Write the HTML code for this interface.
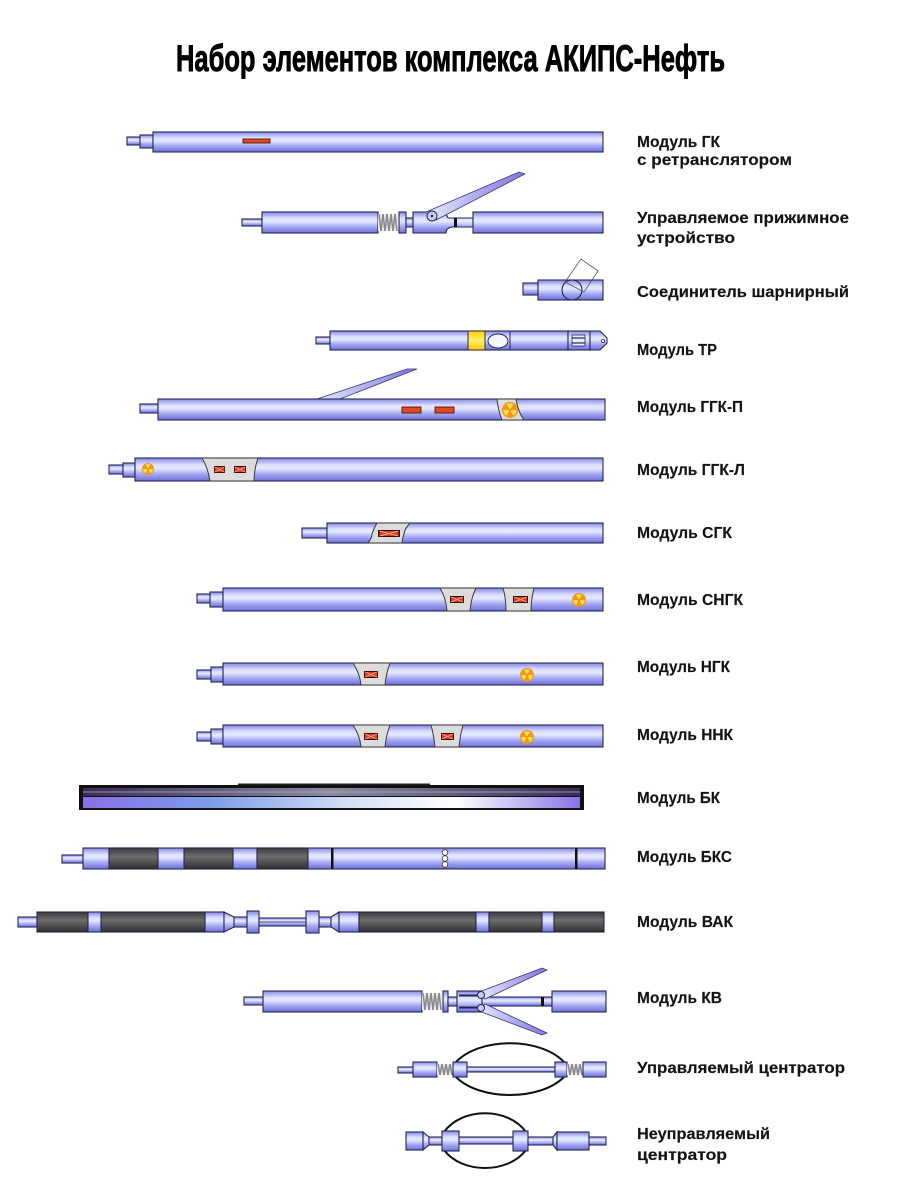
<!DOCTYPE html>
<html><head><meta charset="utf-8"><style>
html,body{margin:0;padding:0;background:#fff;}
svg{display:block;}
.lb{font-family:"Liberation Sans","DejaVu Sans",sans-serif;font-weight:bold;font-size:15.5px;fill:#141414;stroke:#141414;stroke-width:0.15;}
.ttl{font-family:"Liberation Sans","DejaVu Sans",sans-serif;font-weight:bold;font-size:37px;fill:#000;stroke:#000;stroke-width:0.9;}
.p{fill:url(#pipe);stroke:#262650;stroke-width:1.1;}
.d{fill:url(#dark);stroke:#262650;stroke-width:1.1;}
.w{fill:#dcdcdc;stroke:#3a3a3a;stroke-width:1;}
.rb{fill:#dd4a24;stroke:#5a1208;stroke-width:0.9;}
.sp{fill:none;stroke:#8a8a8a;stroke-width:1.6;}
.bow{fill:none;stroke:#111;stroke-width:2;}
</style></head><body>
<svg width="900" height="1200" viewBox="0 0 900 1200" xmlns="http://www.w3.org/2000/svg">
<defs>
<linearGradient id="pipe" x1="0" y1="0" x2="0" y2="1">
<stop offset="0" stop-color="#8486e6"/><stop offset="0.3" stop-color="#dde1fc"/><stop offset="0.45" stop-color="#e4e8ff"/><stop offset="0.7" stop-color="#a4a8f2"/><stop offset="1" stop-color="#6d6fd8"/>
</linearGradient>
<linearGradient id="dark" x1="0" y1="0" x2="0" y2="1">
<stop offset="0" stop-color="#3a3a3a"/><stop offset="0.4" stop-color="#6c6c6c"/><stop offset="0.6" stop-color="#5a5a5a"/><stop offset="1" stop-color="#2e2e2e"/>
</linearGradient>
<linearGradient id="yel" x1="0" y1="0" x2="0" y2="1">
<stop offset="0" stop-color="#ffd000"/><stop offset="0.5" stop-color="#fff070"/><stop offset="1" stop-color="#ffc800"/>
</linearGradient>
<linearGradient id="arm" x1="0" y1="0" x2="1" y2="0">
<stop offset="0" stop-color="#e6eaff"/><stop offset="1" stop-color="#7e74de"/>
</linearGradient>
<linearGradient id="bk" x1="0" y1="0" x2="1" y2="0">
<stop offset="0" stop-color="#8a6fe6"/><stop offset="0.25" stop-color="#7c9be8"/><stop offset="0.55" stop-color="#d6e2f8"/><stop offset="0.75" stop-color="#ffffff"/><stop offset="0.9" stop-color="#b6aef0"/><stop offset="1" stop-color="#8a70e8"/>
</linearGradient>
<linearGradient id="bkt" x1="0" y1="0" x2="1" y2="0">
<stop offset="0" stop-color="#3a2c58"/><stop offset="0.5" stop-color="#8a8aa0"/><stop offset="1" stop-color="#3a2c58"/>
</linearGradient>
<symbol id="rad" viewBox="-8 -8 16 16">
<circle r="8" fill="#f4961c"/>
<path d="M0,0 L-3.25,-5.63 A6.5,6.5 0 0 1 3.25,-5.63 Z M0,0 L6.5,0 A6.5,6.5 0 0 1 3.25,5.63 Z M0,0 L-3.25,5.63 A6.5,6.5 0 0 1 -6.5,0 Z" fill="#ffe24a"/>
<circle r="1.5" fill="#f4961c"/>
</symbol>
<symbol id="det" viewBox="0 0 14 7" preserveAspectRatio="none">
<rect x="0.5" y="0.5" width="13" height="6" fill="#d83c20" stroke="#3a0a08" stroke-width="1"/>
<path d="M1,1 L13,6 M13,1 L1,6" stroke="#f6b090" stroke-width="0.9"/>
</symbol>
</defs>

<text class="ttl" x="176" y="71" textLength="549" lengthAdjust="spacingAndGlyphs">Набор элементов комплекса АКИПС-Нефть</text>

<!-- 1 ГК -->
<rect class="p" x="127" y="137" width="13" height="8"/>
<rect class="p" x="140" y="135" width="13" height="13"/>
<rect class="p" x="153" y="132" width="450" height="20"/>
<rect class="rb" x="243" y="139" width="27" height="4"/>

<!-- 2 прижимное -->
<rect class="p" x="242" y="219" width="20" height="7"/>
<rect class="p" x="262" y="212" width="116" height="21"/>
<rect x="378" y="214" width="20" height="17" fill="#ececf2"/>
<polyline class="sp" points="379,214 381,231 383,214 385,231 387,214 389,231 391,214 393,231 395,214 397,231"/>
<rect class="p" x="399" y="212" width="7" height="21"/>
<rect class="p" x="406" y="218" width="7" height="9"/>
<path class="p" d="M413,212 H440 Q446,212 448,218 H473 V227 H452 Q446,228 446,233 H413 Z"/>
<rect x="454" y="218" width="3" height="9" fill="#111"/>
<rect class="p" x="473" y="212" width="130" height="21"/>
<polygon points="426,212 519,172 525,174 436,220" fill="url(#arm)" stroke="#3a3a70" stroke-width="0.8"/>
<circle cx="432" cy="216" r="5" fill="#c8ccf6" stroke="#262650" stroke-width="1"/>
<circle cx="432" cy="216" r="1.2" fill="#222"/>

<!-- 3 соединитель -->
<rect class="p" x="523" y="283" width="15" height="12"/>
<rect class="p" x="538" y="280" width="65" height="20"/>
<circle class="p" cx="572" cy="290" r="10"/>
<polygon points="565,282 581,259 598,271 584,292" fill="none" stroke="#555" stroke-width="0.8"/>

<!-- 4 ТР -->
<rect class="p" x="316" y="337" width="14" height="7"/>
<rect class="p" x="330" y="331" width="238" height="19"/>
<rect x="468" y="331" width="17" height="19" fill="url(#yel)" stroke="#262650" stroke-width="1"/>
<ellipse cx="498" cy="341" rx="10" ry="7" fill="#f4f6ff" stroke="#262650" stroke-width="1"/>
<line x1="510" y1="331" x2="510" y2="350" stroke="#262650" stroke-width="1"/>
<rect class="p" x="568" y="331" width="22" height="19"/>
<rect x="572" y="335" width="13" height="11" fill="#e8ebff" stroke="#262650" stroke-width="0.8"/>
<line x1="572" y1="338" x2="585" y2="338" stroke="#262650" stroke-width="1.2"/>
<line x1="572" y1="343" x2="585" y2="343" stroke="#262650" stroke-width="1.2"/>
<polygon class="p" points="590,331 600,331 607,338 607,343 600,350 590,350"/>
<circle cx="603" cy="341" r="1.6" fill="#fff" stroke="#262650" stroke-width="0.8"/>

<!-- 5 ГГК-П -->
<polygon points="317,399 407,369 417,369 340,399" fill="url(#arm)" stroke="#3a3a70" stroke-width="0.8"/>
<rect class="p" x="140" y="404" width="18" height="9"/>
<rect class="p" x="158" y="399" width="447" height="21"/>
<rect class="rb" x="402" y="407" width="19" height="6"/>
<rect class="rb" x="435" y="407" width="19" height="6"/>
<path class="w" d="M497,399 H516 Q518,412 524,420 H502 Q498,410 497,399 Z"/>
<use href="#rad" x="502" y="402" width="16" height="16"/>

<!-- 6 ГГК-Л -->
<rect class="p" x="109" y="465" width="14" height="9"/>
<rect class="p" x="123" y="463" width="12" height="14"/>
<rect class="p" x="135" y="458" width="468" height="23"/>
<use href="#rad" x="142" y="463" width="12" height="12"/>
<path class="w" d="M202,458 H258 Q254,470 254,481 H210 Q208,468 202,458 Z"/>
<use href="#det" x="214" y="466" width="11" height="7"/>
<use href="#det" x="234" y="466" width="12" height="7"/>

<!-- 7 СГК -->
<rect class="p" x="302" y="528" width="25" height="10"/>
<rect class="p" x="327" y="523" width="276" height="20"/>
<path class="w" d="M377,523 H410 Q404,530 404,534 Q402,540 402,543 H368 Q372,538 372,534 Q374,528 377,523 Z"/>
<use href="#det" x="378" y="530" width="22" height="7"/>

<!-- 8 СНГК -->
<rect class="p" x="197" y="594" width="13" height="9"/>
<rect class="p" x="210" y="592" width="13" height="15"/>
<rect class="p" x="223" y="588" width="380" height="23"/>
<path class="w" d="M440,588 H476 Q471,598 470,611 H447 Q446,598 440,588 Z"/>
<use href="#det" x="450" y="596" width="14" height="7"/>
<path class="w" d="M503,588 H534 Q531,600 531,611 H506 Q506,598 503,588 Z"/>
<use href="#det" x="513" y="596" width="15" height="7"/>
<use href="#rad" x="572" y="593" width="14" height="14"/>

<!-- 9 НГК -->
<rect class="p" x="197" y="670" width="14" height="9"/>
<rect class="p" x="211" y="667" width="12" height="15"/>
<rect class="p" x="223" y="663" width="380" height="22"/>
<path class="w" d="M353,663 H390 Q386,674 385,685 H361 Q360,674 353,663 Z"/>
<use href="#det" x="364" y="671" width="14" height="7"/>
<use href="#rad" x="520" y="668" width="14" height="14"/>

<!-- 10 ННК -->
<rect class="p" x="197" y="732" width="14" height="9"/>
<rect class="p" x="211" y="729" width="12" height="15"/>
<rect class="p" x="223" y="725" width="380" height="22"/>
<path class="w" d="M353,725 H390 Q386,736 385,747 H361 Q360,736 353,725 Z"/>
<use href="#det" x="364" y="733" width="14" height="7"/>
<path class="w" d="M431,725 H463 Q460,736 459,747 H435 Q434,736 431,725 Z"/>
<use href="#det" x="441" y="733" width="13" height="7"/>
<use href="#rad" x="520" y="730" width="14" height="14"/>

<!-- 11 БК -->
<rect x="238" y="783.5" width="192" height="3" fill="#222"/>
<rect x="79" y="785" width="505" height="25" fill="#111"/>
<rect x="83" y="788" width="497" height="8" fill="url(#bkt)"/>
<line x1="83" y1="792" x2="580" y2="792" stroke="#b0aec0" stroke-width="0.8"/>
<rect x="83" y="797" width="497" height="11" fill="url(#bk)"/>

<!-- 12 БКС -->
<rect class="p" x="62" y="855" width="21" height="8"/>
<rect class="p" x="83" y="848" width="522" height="21"/>
<rect class="d" x="109" y="848" width="49" height="21"/>
<rect class="d" x="184" y="848" width="49" height="21"/>
<rect class="d" x="257" y="848" width="51" height="21"/>
<rect x="331" y="848" width="2.5" height="21" fill="#111"/>
<rect x="575" y="848" width="2.5" height="21" fill="#111"/>
<circle cx="445" cy="852.5" r="2.8" fill="#fff" stroke="#333" stroke-width="0.8"/>
<circle cx="445" cy="858.5" r="2.8" fill="#fff" stroke="#333" stroke-width="0.8"/>
<circle cx="445" cy="864.5" r="2.8" fill="#fff" stroke="#333" stroke-width="0.8"/>

<!-- 13 ВАК -->
<rect class="p" x="18" y="917" width="19" height="10"/>
<rect class="d" x="37" y="912" width="51" height="20"/>
<rect class="p" x="88" y="912" width="13" height="20"/>
<rect class="d" x="101" y="912" width="104" height="20"/>
<rect class="p" x="205" y="912" width="19" height="20"/>
<polygon class="p" points="224,912 234,917 234,927 224,932"/>
<rect class="p" x="234" y="917" width="13" height="10"/>
<rect class="p" x="247" y="911" width="12" height="22"/>
<rect class="p" x="259" y="918" width="47" height="8"/>
<line x1="259" y1="922" x2="306" y2="922" stroke="#262650" stroke-width="0.8"/>
<rect class="p" x="306" y="911" width="13" height="22"/>
<rect class="p" x="319" y="917" width="12" height="10"/>
<polygon class="p" points="331,917 339,912 339,932 331,927"/>
<rect class="p" x="339" y="912" width="20" height="20"/>
<rect class="d" x="359" y="912" width="117" height="20"/>
<rect class="p" x="476" y="912" width="13" height="20"/>
<rect class="d" x="489" y="912" width="53" height="20"/>
<rect class="p" x="542" y="912" width="12" height="20"/>
<rect class="d" x="554" y="912" width="50" height="20"/>

<!-- 14 КВ -->
<rect class="p" x="244" y="997" width="19" height="8"/>
<rect class="p" x="263" y="991" width="159" height="21"/>
<rect x="422" y="993" width="20" height="17" fill="#ececf2"/>
<polyline class="sp" points="423,993 425,1010 427,993 429,1010 431,993 433,1010 435,993 437,1010 439,993 441,1010"/>
<rect class="p" x="443" y="991" width="5" height="21"/>
<rect class="p" x="448" y="997" width="9" height="9"/>
<rect class="p" x="457" y="991" width="25" height="21"/>
<line x1="459" y1="995.5" x2="480" y2="995.5" stroke="#262650" stroke-width="2"/>
<line x1="459" y1="1007.5" x2="480" y2="1007.5" stroke="#262650" stroke-width="2"/>
<rect class="p" x="482" y="997" width="70" height="9"/>
<rect x="541" y="997" width="3" height="9" fill="#111"/>
<rect class="p" x="552" y="991" width="54" height="21"/>
<polygon points="479,992 542,968 547,970 485,999" fill="url(#arm)" stroke="#3a3a70" stroke-width="0.8"/>
<polygon points="479,1011 542,1035 547,1033 485,1004" fill="url(#arm)" stroke="#3a3a70" stroke-width="0.8"/>
<circle cx="481" cy="995" r="3.5" fill="#c8ccf6" stroke="#262650" stroke-width="1"/>
<circle cx="481" cy="1008" r="3.5" fill="#c8ccf6" stroke="#262650" stroke-width="1"/>

<!-- 15 Управляемый центратор -->
<path class="bow" d="M456,1062 C480,1037 540,1037 564,1062"/>
<path class="bow" d="M456,1077 C480,1101 540,1101 564,1077"/>
<rect class="p" x="398" y="1067" width="15" height="6"/>
<rect class="p" x="413" y="1062" width="24" height="15"/>
<rect x="437" y="1064" width="16" height="11" fill="#ececf2"/>
<polyline class="sp" points="438,1064 440,1075 442,1064 444,1075 446,1064 448,1075 450,1064 452,1075"/>
<rect class="p" x="453" y="1062" width="14" height="15"/>
<rect class="p" x="467" y="1067" width="88" height="5"/>
<rect class="p" x="555" y="1062" width="12" height="15"/>
<rect x="567" y="1064" width="16" height="11" fill="#ececf2"/>
<polyline class="sp" points="568,1064 570,1075 572,1064 574,1075 576,1064 578,1075 580,1064 582,1075"/>
<rect class="p" x="583" y="1062" width="23" height="15"/>

<!-- 16 Неуправляемый центратор -->
<path class="bow" d="M444,1132 C462,1107 508,1107 526,1132"/>
<path class="bow" d="M444,1150 C462,1174 508,1174 526,1150"/>
<rect class="p" x="406" y="1132" width="17" height="18"/>
<polygon class="p" points="423,1132 429,1137 429,1145 423,1150"/>
<rect class="p" x="429" y="1137" width="13" height="8"/>
<rect class="p" x="442" y="1131" width="17" height="20"/>
<rect class="p" x="459" y="1137" width="54" height="7"/>
<rect class="p" x="513" y="1131" width="15" height="20"/>
<rect class="p" x="528" y="1137" width="25" height="8"/>
<polygon class="p" points="553,1137 557,1132 557,1150 553,1145"/>
<rect class="p" x="557" y="1132" width="32" height="18"/>
<rect class="p" x="589" y="1137" width="17" height="8"/>

<!-- labels -->
<text class="lb" x="637" y="147" textLength="83" lengthAdjust="spacingAndGlyphs">Модуль ГК</text>
<text class="lb" x="637" y="165" textLength="155" lengthAdjust="spacingAndGlyphs">с ретранслятором</text>
<text class="lb" x="637" y="223" textLength="212" lengthAdjust="spacingAndGlyphs">Управляемое прижимное</text>
<text class="lb" x="637" y="243" textLength="98" lengthAdjust="spacingAndGlyphs">устройство</text>
<text class="lb" x="637" y="297" textLength="212" lengthAdjust="spacingAndGlyphs">Соединитель шарнирный</text>
<text class="lb" x="637" y="355" textLength="80" lengthAdjust="spacingAndGlyphs">Модуль ТР</text>
<text class="lb" x="637" y="412" textLength="106" lengthAdjust="spacingAndGlyphs">Модуль ГГК-П</text>
<text class="lb" x="637" y="475" textLength="108" lengthAdjust="spacingAndGlyphs">Модуль ГГК-Л</text>
<text class="lb" x="637" y="538" textLength="95" lengthAdjust="spacingAndGlyphs">Модуль СГК</text>
<text class="lb" x="637" y="605" textLength="106" lengthAdjust="spacingAndGlyphs">Модуль СНГК</text>
<text class="lb" x="637" y="672" textLength="93" lengthAdjust="spacingAndGlyphs">Модуль НГК</text>
<text class="lb" x="637" y="740" textLength="96" lengthAdjust="spacingAndGlyphs">Модуль ННК</text>
<text class="lb" x="637" y="803" textLength="83" lengthAdjust="spacingAndGlyphs">Модуль БК</text>
<text class="lb" x="637" y="862" textLength="95" lengthAdjust="spacingAndGlyphs">Модуль БКС</text>
<text class="lb" x="637" y="927" textLength="96" lengthAdjust="spacingAndGlyphs">Модуль ВАК</text>
<text class="lb" x="637" y="1003" textLength="85" lengthAdjust="spacingAndGlyphs">Модуль КВ</text>
<text class="lb" x="637" y="1073" textLength="208" lengthAdjust="spacingAndGlyphs">Управляемый центратор</text>
<text class="lb" x="637" y="1139" textLength="133" lengthAdjust="spacingAndGlyphs">Неуправляемый</text>
<text class="lb" x="637" y="1160" textLength="90" lengthAdjust="spacingAndGlyphs">центратор</text>
</svg>
</body></html>
